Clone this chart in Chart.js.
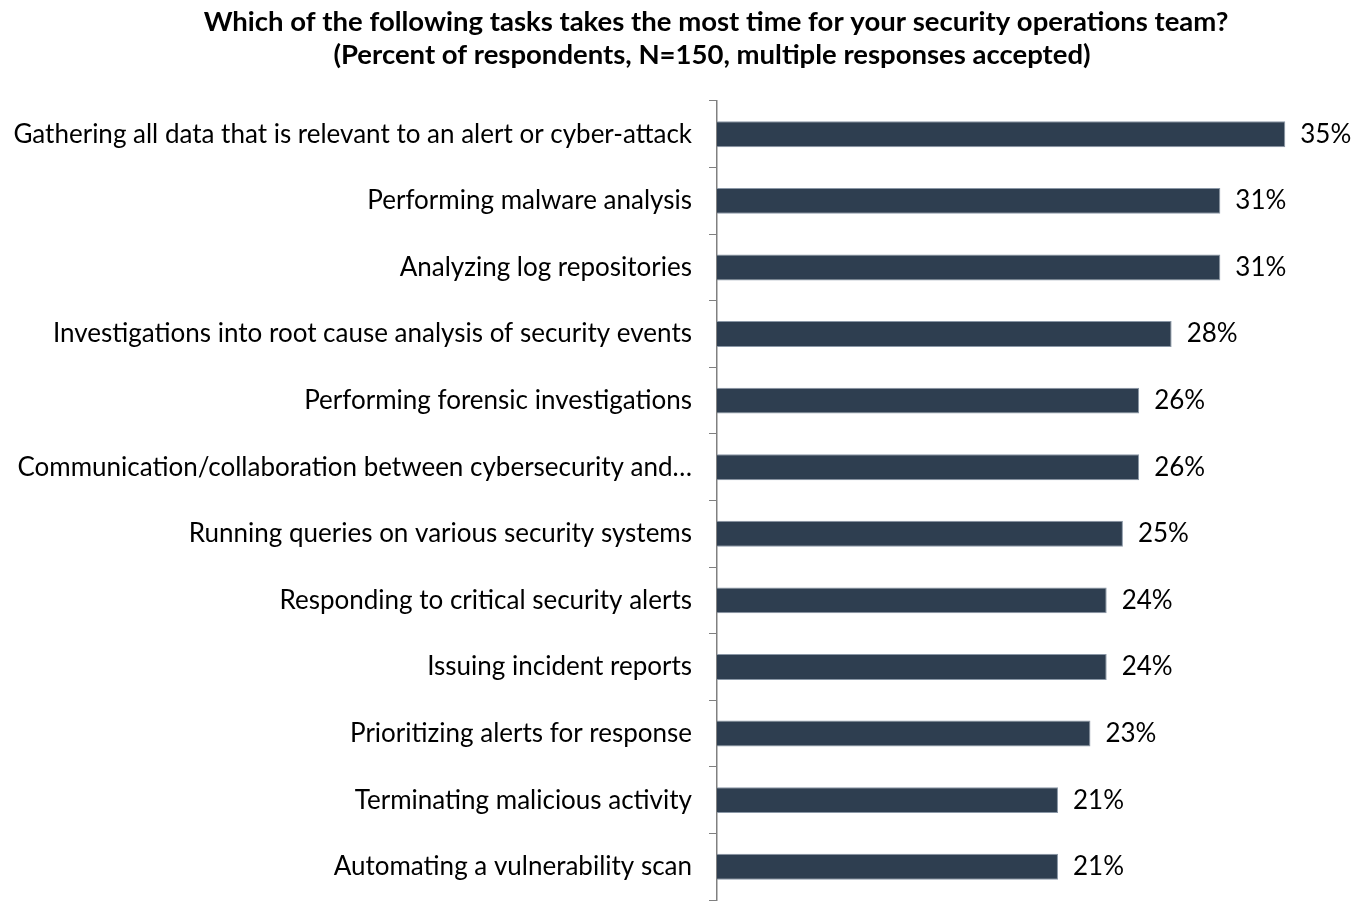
<!DOCTYPE html>
<html>
<head>
<meta charset="utf-8">
<script src="https://cdn.jsdelivr.net/npm/chart.js@4/dist/chart.umd.min.js"></script>
<style>
  html, body { margin: 0; padding: 0; background: #ffffff; }
  #wrap { width: 1362px; height: 901px; position: relative; }
</style>
</head>
<body>
<div id="wrap"><canvas id="chart"></canvas></div>
<script>
// Survey tasks (top to bottom) and share of respondents, in percent
const tasks = [
  "Gathering all data that is relevant to an alert or cyber-attack",
  "Performing malware analysis",
  "Analyzing log repositories",
  "Investigations into root cause analysis of security events",
  "Performing forensic investigations",
  "Communication/collaboration between cybersecurity and\u2026",
  "Running queries on various security systems",
  "Responding to critical security alerts",
  "Issuing incident reports",
  "Prioritizing alerts for response",
  "Terminating malicious activity",
  "Automating a vulnerability scan"
];
const percents = [35, 31, 31, 28, 26, 26, 25, 24, 24, 23, 21, 21];
const titleLines = [
  "Which of the following tasks takes the most time for your security operations team?",
  "(Percent of respondents, N=150, multiple responses accepted)"
];

const FONT = "Lato, 'Open Sans', sans-serif";

// Two-line bold heading
const headingPlugin = {
  id: 'heading',
  afterDraw(chart) {
    const ctx = chart.ctx;
    ctx.save();
    ctx.fillStyle = '#000000';
    ctx.font = "bold 27.5px " + FONT;
    ctx.textAlign = 'center';
    ctx.textBaseline = 'middle';
    ctx.fillText(titleLines[0], 716, 22);
    ctx.fillText(titleLines[1], 712, 55);
    ctx.restore();
  }
};

// Percent labels just past the end of each bar
const valueLabelPlugin = {
  id: 'valueLabels',
  afterDatasetsDraw(chart) {
    const ctx = chart.ctx;
    const meta = chart.getDatasetMeta(0);
    ctx.save();
    ctx.fillStyle = '#000000';
    ctx.font = "26px " + FONT;
    ctx.textAlign = 'left';
    ctx.textBaseline = 'middle';
    meta.data.forEach((bar, i) => {
      ctx.fillText(percents[i] + '%', bar.x + 15, bar.y);
    });
    ctx.restore();
  }
};

new Chart(document.getElementById('chart'), {
  type: 'bar',
  data: {
    labels: tasks,
    datasets: [{
      data: percents,
      backgroundColor: '#2e3e50',
      borderColor: '#8a97a6',
      borderWidth: 1,
      borderSkipped: 'start',
      categoryPercentage: 1,
      barPercentage: 0.39
    }]
  },
  options: {
    indexAxis: 'y',
    responsive: true,
    maintainAspectRatio: false,
    animation: false,
    layout: { padding: { top: 101, right: 28, bottom: 1, left: 0 } },
    plugins: {
      legend: { display: false },
      title: { display: false },
      tooltip: { enabled: false }
    },
    scales: {
      x: {
        display: false,
        min: 0,
        max: 38
      },
      y: {
        afterFit(scale) {
          scale.width = 717;
          scale.paddingTop = 0;
          scale.paddingBottom = 0;
        },
        grid: {
          offset: true,
          drawOnChartArea: false,
          drawTicks: true,
          tickLength: 8,
          color: '#808080',
          lineWidth: 1
        },
        border: { display: true, color: '#808080', width: 1.5 },
        ticks: {
          color: '#000000',
          padding: 17,
          font: { family: FONT, size: 26 },
          autoSkip: false
        }
      }
    }
  },
  plugins: [headingPlugin, valueLabelPlugin]
});
</script>
</body>
</html>
